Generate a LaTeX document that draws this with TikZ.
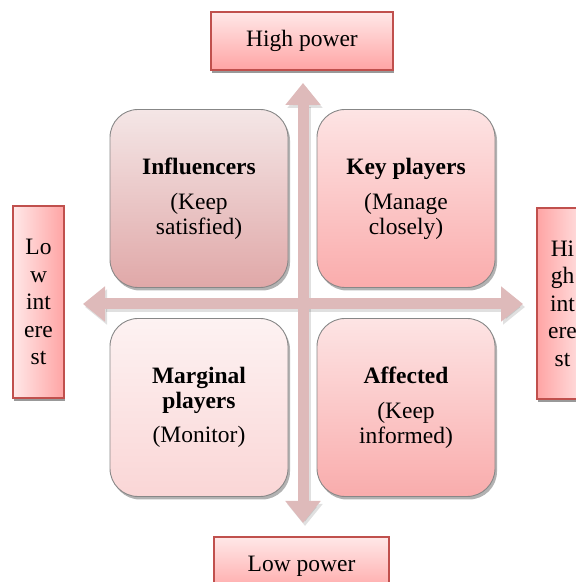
\documentclass[tikz,border=0pt]{standalone}
\usepackage{fontspec}
\setmainfont{Liberation Serif}
\usetikzlibrary{arrows.meta,shadows}
\definecolor{quadline}{RGB}{135,135,135}
\definecolor{labred}{RGB}{192,80,77}
\definecolor{axispink}{RGB}{222,186,186}
\definecolor{tlTop}{RGB}{244,230,230}
\definecolor{tlBot}{RGB}{224,168,168}
\definecolor{trTop}{RGB}{253,228,228}
\definecolor{trBot}{RGB}{250,172,172}
\definecolor{blTop}{RGB}{253,242,242}
\definecolor{blBot}{RGB}{250,214,214}
\definecolor{brTop}{RGB}{253,228,228}
\definecolor{brBot}{RGB}{249,172,172}
\definecolor{labLight}{RGB}{255,232,232}
\definecolor{labDark}{RGB}{255,164,164}
\begin{document}
\begin{tikzpicture}[x=1pt,y=1pt,
  quad/.style={rounded corners=28pt, draw=quadline, line width=0.9pt,
    minimum width=178pt, minimum height=178pt, inner sep=0pt, align=center,
    font=\fontsize{23.5}{25}\selectfont,
    drop shadow={shadow xshift=2pt, shadow yshift=-3pt, fill=black, opacity=0.3}},
  lab/.style={draw=labred, line width=1.4pt, inner sep=0pt, align=center,
    font=\fontsize{23.5}{27.5}\selectfont,
    drop shadow={shadow xshift=1pt, shadow yshift=-3pt, fill=black!40, opacity=1}},
  axis/.style={draw=axispink, line width=11pt,
    arrows={Triangle[width=34pt,length=22pt]-Triangle[width=34pt,length=22pt]}},
  axisshadow/.style={draw=black, opacity=0.12, line width=11pt,
    arrows={Triangle[width=34pt,length=22pt]-Triangle[width=34pt,length=22pt]}}
]
\useasboundingbox (0,0) rectangle (576,582);

% axis end points
\coordinate (vtop) at (303,499);
\coordinate (vbot) at (303,59);
\coordinate (hleft) at (83,278);
\coordinate (hright) at (523,278);
\coordinate (vtops) at (305,496);
\coordinate (vbots) at (305,56);
\coordinate (hlefts) at (85,275);
\coordinate (hrights) at (525,275);

\draw[axisshadow] (vtops) -- (vbots);
\draw[axisshadow] (hlefts) -- (hrights);
\draw[axis] (vtop) -- (vbot);
\draw[axis] (hleft) -- (hright);

% quadrants
\node[quad, top color=tlTop, bottom color=tlBot] (tl) at (199,383.5)
  {\textbf{Influencers}\\[10pt](Keep\\satisfied)};
\node[quad, top color=trTop, bottom color=trBot] (tr) at (406,383.5)
  {\textbf{Key players}\\[10pt](Manage\\closely)};
\node[quad, top color=blTop, bottom color=blBot] (bl) at (199,174.5)
  {\textbf{Marginal}\\\textbf{players}\\[9pt](Monitor)};
\node[quad, top color=brTop, bottom color=brBot] (br) at (406,174.5)
  {\textbf{Affected}\\[10pt](Keep\\informed)};

% axis labels
\node[lab, minimum width=182pt, minimum height=58pt,
  top color=labLight, bottom color=labDark] (hp) at (302,541) {High power};
\node[lab, minimum width=175pt, minimum height=58pt,
  top color=labLight, bottom color=labDark] (lp) at (301.5,16) {Low power};
\node[lab, minimum width=51pt, minimum height=192pt,
  left color=labLight, right color=labDark] (li) at (38.5,280) {Lo\\w\\int\\ere\\st};
\node[lab, minimum width=51pt, minimum height=191pt,
  left color=labDark, right color=labLight] (hi) at (562.5,278.5) {Hi\\gh\\int\\ere\\st};
\end{tikzpicture}
\end{document}
